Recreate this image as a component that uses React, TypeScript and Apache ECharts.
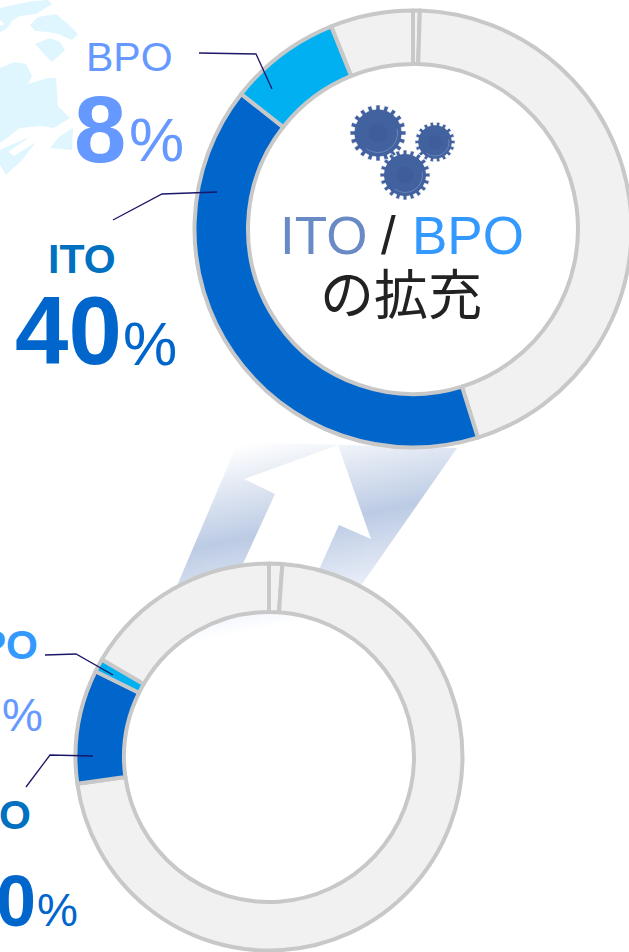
import React, { useEffect, useRef } from "react";
import * as echarts from "echarts";

const categories = ["", "その他", "ITO", "BPO", "その他 "];
const afterValues = [0.5, 44.7, 40.4, 8.3, 6.1];
const beforeValues = [1.1, 71.7, 9.5, 1.1, 16.6];
const sliceColors = ["#f1f1f1", "#f1f1f1", "#0066cc", "#00b0f0", "#f1f1f1"];

const LATIN = '"Liberation Sans", Arial, sans-serif';
const CJK = '"Noto Sans CJK JP", sans-serif';

function gearPoints(cx: number, cy: number, r: number, teeth: number) {
  const pts: number[][] = [];
  const inner = r * 0.85;
  for (let i = 0; i < teeth; i++) {
    const a = (i / teeth) * Math.PI * 2;
    const s = (Math.PI * 2) / teeth;
    const rows: [number, number][] = [
      [a - s * 0.5, inner],
      [a - s * 0.27, inner],
      [a - s * 0.24, r],
      [a + s * 0.24, r],
      [a + s * 0.27, inner],
    ];
    rows.forEach(([t, q]) => pts.push([cx + Math.cos(t) * q, cy + Math.sin(t) * q]));
  }
  return pts;
}

function gear(cx: number, cy: number, r: number, teeth: number) {
  return [
    { type: "polygon", z: 5, shape: { points: gearPoints(cx, cy, r, teeth) }, style: { fill: "#42619f", stroke: "#ffffff", lineWidth: 0.6 } },
    { type: "arc", z: 5, shape: { cx, cy, r: r * 0.7, startAngle: -0.2, endAngle: 2.2 }, style: { stroke: "#6a84b8", lineWidth: 1, fill: "none" } },
    { type: "circle", z: 5, shape: { cx, cy, r: r * 0.34 }, style: { fill: "#3f5c9b" } },
  ];
}

function txt(text: string, x: number, y: number, font: string, fill: string, align: string = "left") {
  return { type: "text", z: 6, style: { text, x, y, font, fill, textAlign: align, textVerticalAlign: "middle" } };
}

function leader(points: number[][]) {
  return { type: "polyline", z: 6, shape: { points }, style: { stroke: "#1c1668", lineWidth: 1.3, fill: "none" } };
}

function mapShape(points: number[][]) {
  return { type: "polygon", z: 0, shape: { points }, style: { fill: "#dff6fe" } };
}

function pie(center: number[], radius: number[], data: number[]) {
  return {
    type: "pie",
    silent: true,
    clockwise: true,
    startAngle: 90,
    center,
    radius,
    label: { show: false },
    labelLine: { show: false },
    itemStyle: { borderColor: "#c8c8c8", borderWidth: 4 },
    data: data.map((value, i) => ({ value, name: categories[i], itemStyle: { color: sliceColors[i] } })),
  };
}

export default function App() {
  const ref = useRef<HTMLDivElement>(null);
  useEffect(() => {
    const chart = echarts.init(ref.current!, null, { renderer: "svg" });
    const band = {
      type: "linear", global: true, x: 292, y: 435, x2: 333, y2: 640,
      colorStops: [
        { offset: 0, color: "rgba(188,203,228,0)" },
        { offset: 0.44, color: "#bccbe4" },
        { offset: 0.76, color: "#e8edf7" },
        { offset: 0.81, color: "#f6f8fe" },
        { offset: 0.88, color: "#ffffff" },
        { offset: 1, color: "#ffffff" },
      ],
    };
    chart.setOption({
      animation: false,
      backgroundColor: "#ffffff",
      series: [pie([413, 229], [165, 218.5], afterValues), pie([269, 757], [145, 193.5], beforeValues)],
      graphic: [
        mapShape([[0, 8], [18, 4], [33, 1], [48, 0], [52, 4], [36, 14], [20, 16], [6, 25], [0, 20]]),
        mapShape([[30, 25], [38, 17], [56, 14], [68, 24], [78, 34], [72, 40], [58, 34], [48, 32], [35, 31]]),
        mapShape([[35, 44], [50, 38], [60, 42], [65, 50], [52, 62], [44, 54]]),
        mapShape([[0, 26], [12, 22], [5, 30], [0, 32]]),
        mapShape([[0, 68], [14, 62], [26, 64], [32, 76], [28, 84], [48, 78], [56, 78], [58, 106], [70, 118], [54, 128], [42, 126], [20, 128], [0, 143]]),
        mapShape([[0, 150], [22, 140], [30, 137], [8, 152], [14, 156], [36, 142], [22, 160], [6, 175], [0, 165]]),
        mapShape([[50, 148], [60, 136], [73, 128], [72, 150]]),
        { type: "polygon", z: 0, shape: { points: [[238, 442], [457, 448], [323, 640], [154, 640]] }, style: { fill: band } },
        { type: "polygon", z: 1, shape: { points: [[338, 445], [244, 479], [275, 494], [230, 592], [309, 592], [339, 525], [371, 539]] }, style: { fill: "#ffffff" } },
        ...gear(378, 133, 28, 20),
        ...gear(435, 142, 20, 18),
        ...gear(405, 175, 25, 20),
        leader([[199, 53], [256, 54], [272, 89]]),
        leader([[113, 220], [162, 194], [217, 192]]),
        leader([[45, 655], [76, 654], [113, 675]]),
        leader([[26, 787], [50, 755], [93, 756]]),
        txt("BPO", 86, 57, `41px ${LATIN}`, "#6699ff"),
        txt("8", 74, 129, `bold 94px ${LATIN}`, "#6699ff"),
        txt("%", 129, 139, `62px ${LATIN}`, "#6699ff"),
        txt("ITO", 48, 259, `bold 41px ${LATIN}`, "#0070c0"),
        txt("40", 15, 330, `bold 96px ${LATIN}`, "#0066cc"),
        txt("%", 123, 344, `61px ${LATIN}`, "#0066cc"),
        txt("ITO", 280, 235, `53px ${LATIN}`, "#6a8ac6"),
        txt("/", 381, 235, `53px ${LATIN}`, "#222222"),
        txt("BPO", 412, 235, `53px ${LATIN}`, "#3399ff"),
        txt("の拡充", 401, 291, `54px ${CJK}`, "#222222", "center"),
        txt("BPO", 38, 645, `bold 41px ${LATIN}`, "#3399ff", "right"),
        txt("%", 2, 715, `46px ${LATIN}`, "#6699ff"),
        txt("ITO", 31, 815, `bold 41px ${LATIN}`, "#0070c0", "right"),
        txt("10", 36, 901, `bold 72px ${LATIN}`, "#0066cc", "right"),
        txt("%", 37, 910, `46px ${LATIN}`, "#0066cc"),
      ],
    });
    return () => chart.dispose();
  }, []);
  return <div ref={ref} style={{ position: "absolute", left: 0, top: 0, width: 629, height: 952 }} />;
}
